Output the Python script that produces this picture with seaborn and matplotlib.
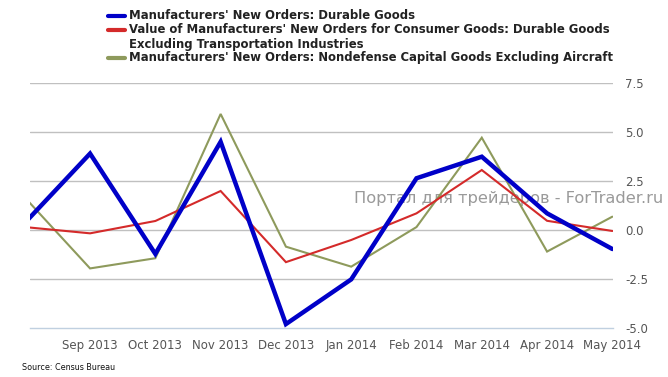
import matplotlib
matplotlib.use("Agg")
import matplotlib.pyplot as plt
from matplotlib.lines import Line2D
import numpy as np
import pandas as pd
import seaborn as sns

months = ["Aug 2013", "Sep 2013", "Oct 2013", "Nov 2013", "Dec 2013",
          "Jan 2014", "Feb 2014", "Mar 2014", "Apr 2014", "May 2014"]
durable = [0.36, 3.9, -1.22, 4.5, -4.8, -2.52, 2.64, 3.74, 0.85, -0.97]
consumer = [0.15, -0.17, 0.46, 1.99, -1.64, -0.51, 0.85, 3.06, 0.47, -0.05]
capital = [1.66, -1.96, -1.44, 5.92, -0.85, -1.87, 0.15, 4.71, -1.1, 0.68]
yticks = [-5.0, -2.5, 0.0, 2.5, 5.0, 7.5]

labels = ["Manufacturers' New Orders: Durable Goods",
          "Value of Manufacturers' New Orders for Consumer Goods: Durable Goods\nExcluding Transportation Industries",
          "Manufacturers' New Orders: Nondefense Capital Goods Excluding Aircraft"]
colors = ["#0000c8", "#d42a2a", "#8e9a5c"]
widths = [3.2, 1.5, 1.5]

sns.set_style("white")
plt.rcParams['font.family'] = ['DejaVu Sans']

fig = plt.figure(figsize=(6.68, 3.77), dpi=100)
W, H = 668, 377
ax = fig.add_axes([30 / W, (H - 328) / H, (613 - 30) / W, (328 - 83) / H])

x = np.arange(len(months))
series = [durable, consumer, capital]
# draw in order: olive, red, blue on top
for idx in [2, 1, 0]:
    df = pd.DataFrame({"x": x, "y": series[idx]})
    sns.lineplot(data=df, x="x", y="y", ax=ax, color=colors[idx],
                 linewidth=widths[idx], zorder=3 + (2 - idx),
                 solid_joinstyle="miter", legend=False)

ax.set_xlim(0.08, 9.01)
ax.set_ylim(-5.0, 7.5)
ax.set_xlabel("")
ax.set_ylabel("")

ax.set_xticks(x[1:])
ax.set_xticklabels(months[1:], color="#555555", fontsize=8.5)
ax.set_yticks(yticks)
ax.set_yticklabels([f"{v:.1f}" for v in yticks], color="#555555", fontsize=8.5)
ax.yaxis.tick_right()
ax.tick_params(axis="y", length=0, pad=9)
ax.tick_params(axis="x", length=9, width=1, color="#c0d0e0", pad=-1, direction="out")

for sp in ["top", "left", "right"]:
    ax.spines[sp].set_visible(False)
ax.spines["bottom"].set_color("#c0d0e0")
ax.spines["bottom"].set_linewidth(1)

ax.grid(False)
for v in yticks[1:]:
    ax.axhline(v, color="#c0c0c0", linewidth=1, zorder=1)

# watermark
ax.text(1.0 + 50 / 583, 1 - (199 - 83) / 245, "Портал для трейдеров - ForTrader.ru",
        transform=ax.transAxes, ha="right", va="center", fontsize=11.7,
        color="#9a9a9a", zorder=2, clip_on=False)

# legend (drawn manually so the handle sits on the first line of each label)
rows_y = [16, 30, 58]
for lab, col, yy in zip(labels, colors, rows_y):
    fig.add_artist(Line2D([108 / W, 125 / W], [1 - yy / H, 1 - yy / H],
                          color=col, linewidth=3, transform=fig.transFigure))
    fig.text(129 / W, 1 - (yy - 7) / H, lab, fontsize=8.4, fontweight="bold",
             color="#222222", ha="left", va="top", linespacing=1.2)

fig.text(22 / W, 1 - 368 / H, "Source: Census Bureau", fontsize=5.8,
         color="#111111", va="center", ha="left")

fig.savefig("out.png", dpi=100, facecolor="white")
